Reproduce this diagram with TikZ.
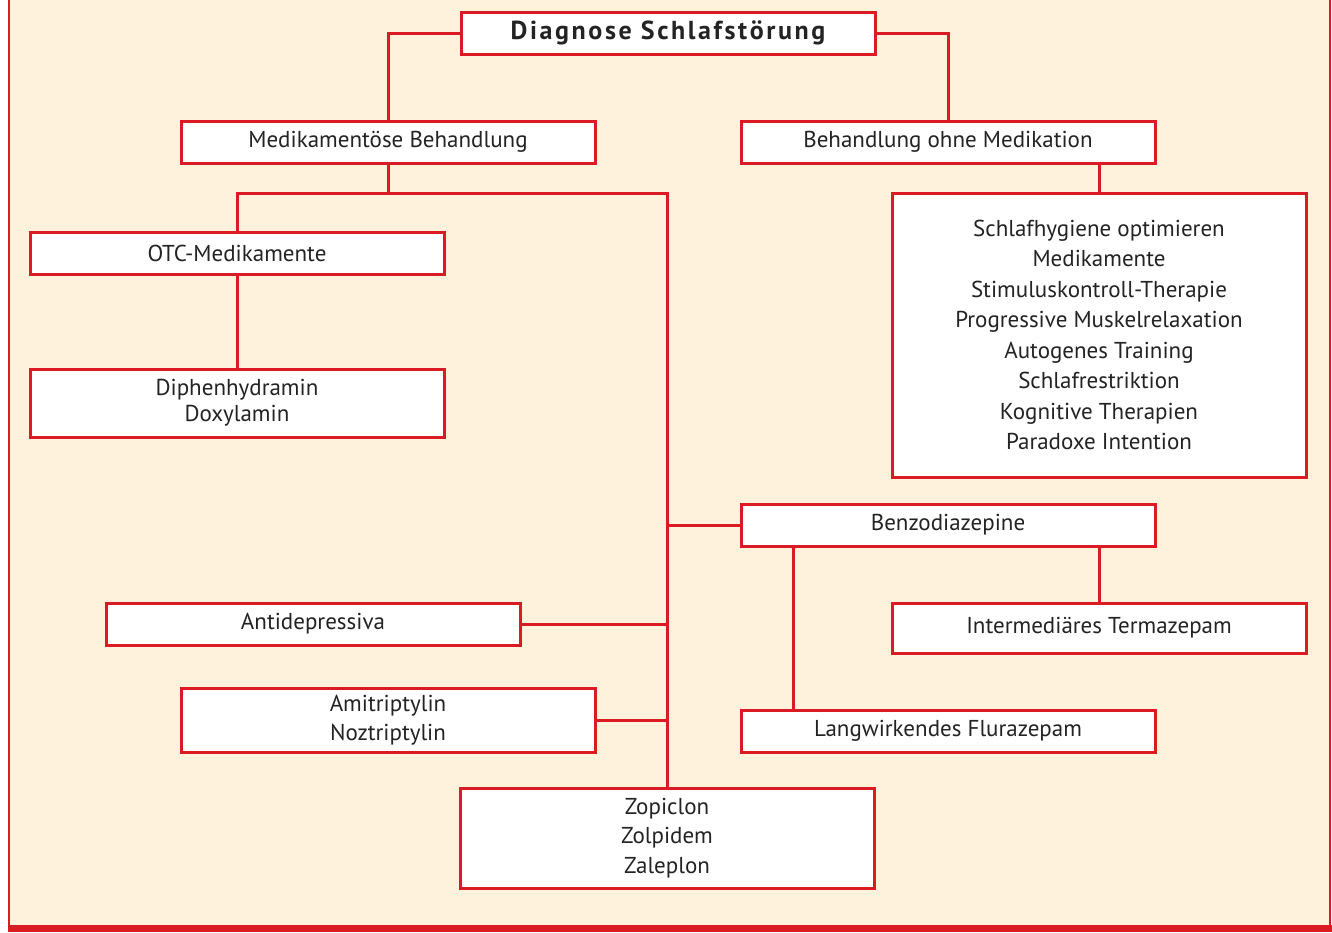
\documentclass[tikz,border=0pt]{standalone}
\usepackage{fontspec}
\setmainfont{PT Sans}
\newfontfamily\titlefont[LetterSpace=10]{PT Sans Bold}
\usepackage{tikz}
\usetikzlibrary{positioning}
\definecolor{chartRed}{RGB}{218,27,35}
\definecolor{chartBack}{RGB}{255,242,220}
\definecolor{chartText}{RGB}{35,35,35}
\tikzstyle{chart} = [x = 1pt, y = -1pt]
\tikzstyle{boxStyle} = [draw=chartRed, fill=white, line width=3pt, minimum width=414pt,
  text=chartText, font=\fontsize{23}{30.5}\selectfont, align=center, inner sep=0pt]
\tikzstyle{linkLine} = [draw=chartRed, line width=3pt]
\newcommand{\chartBox}[5]{\node [boxStyle, minimum height=#4pt] (#1) at (#2,#3) {#5};}

\begin{document}
\begin{tikzpicture}[chart]
  \useasboundingbox (0,0) rectangle (1332,932);
  % background and frame
  \fill [chartBack] (9,0) rectangle (1330,925);
  \draw [chartRed, line width=1.5pt] (9,0) -- (9,925);
  \draw [chartRed, line width=1.5pt] (1330,0) -- (1330,925);
  \fill [chartRed] (8,925) rectangle (1332,932);

  % boxes
  \chartBox{diagnose}{668}{33}{42}{\titlefont\fontsize{26}{30}\selectfont Diagnose Schlafstörung}
  \chartBox{medikament}{388}{142}{42}{Medikamentöse Behandlung}
  \chartBox{ohneMed}{948}{142}{42}{Behandlung ohne Medikation}
  \chartBox{otc}{237}{253}{42}{OTC-Medikamente}
  \node [boxStyle, minimum height=68pt, font=\fontsize{23}{26}\selectfont] (diphen) at (237,403) {Diphenhydramin\\Doxylamin};
  \chartBox{massnahmen}{1099}{335}{284}{Schlafhygiene optimieren\\Medikamente\\Stimuluskontroll-Therapie\\Progressive Muskelrelaxation\\Autogenes Training\\Schlafrestriktion\\Kognitive Therapien\\Paradoxe Intention}
  \chartBox{benzo}{948}{525}{42}{Benzodiazepine}
  \chartBox{intermed}{1099}{628}{50}{Intermediäres Termazepam}
  \chartBox{langwirk}{948}{731}{42}{Langwirkendes Flurazepam}
  \chartBox{antidep}{313}{624}{42}{Antidepressiva}
  \node [boxStyle, minimum height=64pt, font=\fontsize{23}{29}\selectfont] (amitrip) at (388,720) {Amitriptylin\\Noztriptylin};
  \node [boxStyle, minimum height=100pt, font=\fontsize{23}{29.5}\selectfont] (zopiclon) at (667,838) {Zopiclon\\Zolpidem\\Zaleplon};

  % connectors
  \coordinate (spineTop) at (667,193);
  \draw [linkLine] (diagnose.west) -| (medikament.north);
  \draw [linkLine] (diagnose.east) -| (ohneMed.north);
  \draw [linkLine] (medikament.south) -- (medikament.south |- spineTop);
  \draw [linkLine] (otc.north) |- (spineTop) -- (zopiclon.north);
  \draw [linkLine] (otc.south) -- (diphen.north);
  \draw [linkLine] (massnahmen.north) -- (massnahmen.north |- ohneMed.south);
  \draw [linkLine] (benzo.west) -- (benzo.west -| spineTop);
  \draw [linkLine] (antidep.east) -- (antidep.east -| spineTop);
  \draw [linkLine] (amitrip.east) -- (amitrip.east -| spineTop);
  \draw [linkLine] (intermed.north) -- (intermed.north |- benzo.south);
  \draw [linkLine] ([xshift=54pt]langwirk.north west) -- ([xshift=54pt]benzo.south west);
\end{tikzpicture}
\end{document}
